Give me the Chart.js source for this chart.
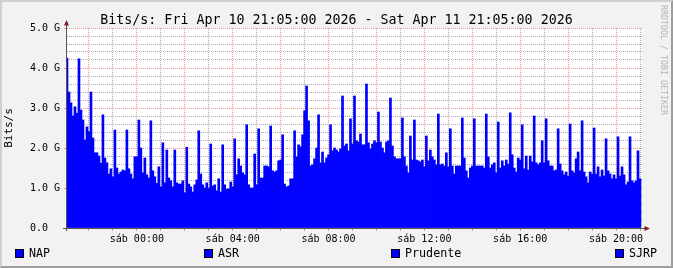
<!DOCTYPE html>
<html>
<head>
<meta charset="utf-8">
<script src="https://cdn.jsdelivr.net/npm/chart.js@4.4.1/dist/chart.umd.min.js"></script>
<style>
  html, body { margin: 0; padding: 0; background: #f2f2f2; }
  #graph { position: relative; width: 673px; height: 268px; background: #f2f2f2; overflow: hidden;
           font-family: "DejaVu Sans Mono", monospace; color: #000; }
  #graph canvas { position: absolute; left: 0; top: 0; }
  #frame { position: absolute; left: 0; top: 0; width: 673px; height: 268px; box-sizing: border-box;
           border-style: solid; border-width: 2px; border-color: #cfcfcf #9e9e9e #9e9e9e #cfcfcf; pointer-events: none; }
  #title { position: absolute; left: 0; top: 12px; width: 673px; text-align: center;
           font-size: 13.3px; line-height: 15px; white-space: pre; }
  .legend-item { position: absolute; top: 247px; font-size: 11.7px; line-height: 12px; white-space: pre; }
  .legend-box { position: absolute; top: 249px; width: 9px; height: 9px; box-sizing: border-box;
                border: 1px solid #000; background: #0000ff; }
  #watermark { position: absolute; left: 668px; top: 5px; font-size: 8.3px; line-height: 9px; color: #b4b4b4;
               white-space: pre; transform: rotate(90deg); transform-origin: 0 0; }
</style>
</head>
<body>
<div id="graph">
  <canvas id="rrdChart" width="673" height="268"></canvas>
  <div id="title"></div>
  <div id="watermark">RRDTOOL / TOBI OETIKER</div>
  <div id="legend"></div>
  <div id="frame"></div>
</div>
<script>
// ---- data (Gbit/s, one value every 5 minutes from Fri 21:05) ----
const chartTitle = 'Bits/s: Fri Apr 10 21:05:00 2026 - Sat Apr 11 21:05:00 2026';
const yTitle = 'Bits/s';
const seriesNames = ['NAP', 'ASR', 'Prudente', 'SJRP'];
const startMinute = 21 * 60 + 5;
const stepMin = 5;
const spanMin = 1440;
const xLabelHours = [0, 4, 8, 12, 16, 20];
const xTickLabels = ['sáb 00:00', 'sáb 04:00', 'sáb 08:00', 'sáb 12:00', 'sáb 16:00', 'sáb 20:00'];

const traffic = [
  4.25,
  3.40, 3.13, 2.80, 3.03, 2.87, 4.23, 2.95, 2.70, 2.20, 2.53, 2.41, 3.40, 2.25, 1.88, 1.88, 1.80, 1.62, 2.83, 1.75, 1.63, 1.35, 1.48, 1.28, 2.45,
  1.50, 1.35, 1.40, 1.45, 1.43, 2.45, 1.48, 1.35, 1.23, 1.78, 1.78, 2.70, 2.00, 1.38, 1.75, 1.33, 1.25, 2.68, 1.43, 1.28, 1.12, 1.53, 1.03, 2.13,
  1.13, 1.95, 1.25, 1.18, 1.03, 1.95, 1.13, 1.10, 1.10, 1.18, 0.88, 2.02, 1.10, 1.03, 0.90, 1.08, 1.20, 2.43, 1.35, 1.08, 1.00, 1.13, 1.00, 2.10,
  1.05, 1.08, 0.93, 1.23, 0.90, 2.08, 1.08, 0.97, 0.98, 1.15, 1.03, 2.23, 1.33, 1.73, 1.55, 1.38, 1.33, 2.58, 1.08, 1.00, 1.00, 1.85, 1.08, 2.48,
  1.25, 1.25, 1.55, 1.55, 1.53, 2.55, 1.43, 1.40, 1.43, 1.68, 1.70, 2.33, 1.10, 1.03, 1.05, 1.23, 1.23, 2.43, 1.78, 2.08, 2.03, 2.33, 2.93, 3.55,
  2.68, 1.55, 1.58, 1.73, 2.00, 2.83, 1.63, 1.90, 1.63, 1.75, 1.83, 2.58, 1.93, 2.00, 1.95, 1.90, 1.98, 3.30, 2.05, 2.10, 1.93, 2.73, 2.10, 3.30,
  2.18, 2.15, 2.35, 2.08, 2.08, 3.60, 2.13, 1.98, 2.10, 2.18, 2.13, 2.90, 2.15, 2.00, 1.88, 2.15, 2.18, 3.25, 2.05, 1.78, 1.73, 1.73, 1.73, 2.75,
  1.78, 1.55, 1.38, 2.30, 1.70, 2.70, 1.70, 1.68, 1.65, 1.70, 1.53, 2.30, 1.68, 1.95, 1.78, 1.70, 1.58, 2.85, 1.58, 1.60, 1.55, 1.88, 1.53, 2.48,
  1.55, 1.35, 1.55, 1.55, 1.55, 2.75, 1.75, 1.43, 1.25, 1.50, 1.55, 2.73, 1.55, 1.55, 1.55, 1.55, 1.50, 2.85, 1.78, 1.50, 1.58, 1.63, 1.38, 2.65,
  1.50, 1.68, 1.55, 1.70, 1.60, 2.88, 1.83, 1.50, 1.40, 1.75, 1.70, 2.58, 1.48, 1.80, 1.45, 1.80, 1.65, 2.80, 1.63, 1.58, 1.63, 2.18, 1.63, 2.73,
  1.68, 1.55, 1.55, 1.43, 1.45, 2.48, 1.60, 1.43, 1.33, 1.40, 1.30, 2.60, 1.43, 1.38, 1.73, 1.90, 1.43, 2.68, 1.40, 1.28, 1.13, 1.40, 1.35, 2.50,
  1.35, 1.53, 1.28, 1.45, 1.30, 2.23, 1.43, 1.35, 1.23, 1.33, 1.23, 2.28, 1.30, 1.53, 1.33, 1.08, 1.15, 2.28, 1.18, 1.13, 1.18, 1.93, 1.23
];

// ---- rrdtool look ----
const GRID = 'rgba(143,143,143,0.75)';
const MGRID = 'rgba(222,79,79,0.6)';
const AXIS = '#555555';
const ARROW = '#801f1f';
const legendLeft = [15, 204, 391, 615];

document.getElementById('title').textContent = chartTitle;
const legend = document.getElementById('legend');
seriesNames.forEach((name, i) => {
    const box = document.createElement('div');
    box.className = 'legend-box';
    box.style.left = legendLeft[i] + 'px';
    const txt = document.createElement('div');
    txt.className = 'legend-item';
    txt.style.left = (legendLeft[i] + 14) + 'px';
    txt.textContent = name;
    legend.appendChild(box);
    legend.appendChild(txt);
});

const hourTicks = [];
for (let m = 60 - (startMinute % 60); m <= spanMin; m += 60) hourTicks.push(m);
const hourOf = m => Math.round((startMinute + m) / 60) % 24;
const isWhole = v => Math.abs(v - Math.round(v)) < 1e-6;

const rrdFrame = {
    id: 'rrdFrame',
    beforeDraw(chart) {
        const {ctx, chartArea: a} = chart;
        ctx.save();
        ctx.fillStyle = '#ffffff';
        ctx.fillRect(a.left, a.top, a.right - a.left, a.bottom - a.top);
        ctx.restore();
    },
    afterDraw(chart) {
        const {ctx, chartArea: a} = chart;
        ctx.save();
        ctx.strokeStyle = AXIS;
        ctx.lineWidth = 1;
        ctx.beginPath();
        ctx.moveTo(a.left - 0.5, a.bottom + 3);
        ctx.lineTo(a.left - 0.5, a.top - 6);
        ctx.moveTo(a.left - 4, a.bottom + 0.5);
        ctx.lineTo(a.right + 3, a.bottom + 0.5);
        ctx.stroke();
        ctx.fillStyle = ARROW;
        ctx.beginPath();
        ctx.moveTo(a.left - 3, a.top - 2.5);
        ctx.lineTo(a.left + 2, a.top - 2.5);
        ctx.lineTo(a.left - 0.5, a.top - 8);
        ctx.closePath();
        ctx.fill();
        ctx.beginPath();
        ctx.moveTo(a.right + 2.5, a.bottom - 2);
        ctx.lineTo(a.right + 2.5, a.bottom + 3);
        ctx.lineTo(a.right + 8, a.bottom + 0.5);
        ctx.closePath();
        ctx.fill();
        ctx.restore();
    }
};

Chart.defaults.font.family = '"DejaVu Sans Mono", monospace';
Chart.defaults.color = '#000';

new Chart(document.getElementById('rrdChart'), {
    type: 'bar',
    plugins: [rrdFrame],
    data: {
        datasets: [{
            label: seriesNames[0],
            data: traffic.map((v, i) => ({ x: i * stepMin, y: v })),
            backgroundColor: '#0000ff',
            borderWidth: 0,
            barPercentage: 1,
            categoryPercentage: 1,
            clip: 0
        }]
    },
    options: {
        responsive: false,
        animation: false,
        devicePixelRatio: 1,
        layout: { padding: { left: 0, top: 28, right: 31, bottom: 0 } },
        plugins: { legend: { display: false }, tooltip: { enabled: false } },
        scales: {
            x: {
                type: 'linear', min: 0, max: spanMin, offset: false, z: 1,
                afterBuildTicks: s => { s.ticks = hourTicks.map(v => ({ value: v })); },
                afterFit: s => { s.height = 40; },
                grid: {
                    offset: false, lineWidth: 1, drawTicks: true, tickLength: 3, borderDash: [1, 1],
                    color: c => (c.tick && hourOf(c.tick.value) % 2 === 0) ? MGRID : GRID
                },
                border: { display: false, dash: [1, 1] },
                ticks: {
                    autoSkip: false, maxRotation: 0, minRotation: 0, padding: 2, font: { size: 10 },
                    callback: v => {
                        const k = xLabelHours.indexOf(hourOf(v));
                        return k >= 0 ? xTickLabels[k] : '';
                    }
                }
            },
            y: {
                min: 0, max: 5, z: 1,
                afterFit: s => { s.width = 67; },
                grid: {
                    lineWidth: 1, drawTicks: true, tickLength: 3, borderDash: [1, 1],
                    color: c => (c.tick && isWhole(c.tick.value)) ? MGRID : GRID,
                    tickColor: c => (c.tick && isWhole(c.tick.value)) ? MGRID : 'rgba(0,0,0,0)'
                },
                border: { display: false, dash: [1, 1] },
                ticks: {
                    stepSize: 0.2, autoSkip: false, padding: 4, font: { size: 10 },
                    callback: v => {
                        if (!isWhole(v)) return '';
                        const r = Math.round(v);
                        return r === 0 ? '0.0  ' : r.toFixed(1) + ' G';
                    }
                },
                title: { display: true, text: yTitle, font: { size: 11 }, padding: { top: 3, bottom: 0 } }
            }
        }
    }
});
</script>
</body>
</html>
